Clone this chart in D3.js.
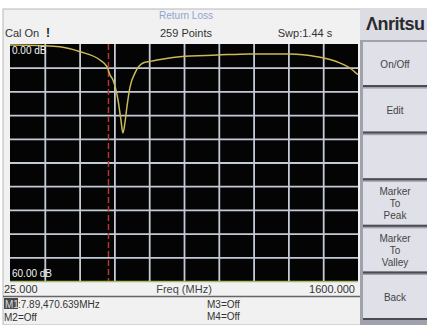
<!DOCTYPE html>
<html>
<head>
<meta charset="utf-8">
<script src="https://d3js.org/d3.v7.min.js"></script>
<style>
  body { margin: 0; background: #fff; }
  text { font-family: "Liberation Sans", Arial, sans-serif; }
</style>
</head>
<body>
<script>
// trace (return loss, dB, shown positive)
var freqMHz = [25, 34, 161, 251, 342, 432, 464, 478, 491, 514, 527, 536, 545, 554, 568, 591, 627, 659, 690, 794, 962, 1111, 1292, 1414, 1505, 1564, 1600];
var returnLossDb = [0.25, 0.25, 0.4, 0.7, 1.95, 4.05, 5.75, 7.89, 9.1, 14.2, 19.2, 22.5, 20, 16, 10.9, 7.3, 4.8, 4.4, 4.05, 3.2, 2.8, 2.5, 2.5, 3.2, 4.5, 6.1, 7.8];

var freqRange = [25, 1600];
var dbRange = [0, 60];
var freqLabels = ["25.000", "1600.000"];
var dbLabels = ["0.00 dB", "60.00 dB"];
var markerFreq = [470.639];
var markerText = ["M1", ":7.89,470.639MHz", "M2=Off", "M3=Off", "M4=Off"];
var buttons = [["On/Off"], ["Edit"], [""], ["Marker", "To", "Peak"], ["Marker", "To", "Valley"], ["Back"]];

var W = 427, H = 325;
var plot = {left: 10, top: 44, right: 358, bottom: 281};

var svg = d3.select("body").append("svg")
    .attr("width", W)
    .attr("height", H);

// screen body
svg.append("rect").attr("x", 3).attr("y", 9).attr("width", W - 3).attr("height", H - 9)
    .attr("fill", "#f1f1f1").attr("stroke", "#b8b8b8");

// header texts
svg.append("text").attr("x", 186).attr("y", 19).attr("text-anchor", "middle")
    .attr("font-size", 10).attr("fill", "#8ea6cf").text("Return Loss");
svg.append("text").attr("x", 5).attr("y", 37).attr("font-size", 11).attr("fill", "#333").text("Cal On");
svg.append("text").attr("x", 48).attr("y", 37).attr("font-size", 12).attr("font-weight", "bold")
    .attr("text-anchor", "middle").attr("fill", "#222").text("!");
svg.append("text").attr("x", 186).attr("y", 37).attr("text-anchor", "middle")
    .attr("font-size", 11).attr("fill", "#333").text("259 Points");
svg.append("text").attr("x", 305).attr("y", 37).attr("text-anchor", "middle")
    .attr("font-size", 11).attr("fill", "#333").text("Swp:1.44 s");

// scales
var x = d3.scaleLinear().domain(freqRange).range([plot.left, plot.right]);
var y = d3.scaleLinear().domain(dbRange).range([plot.top, plot.bottom]);

svg.append("rect")
    .attr("x", plot.left).attr("y", plot.top)
    .attr("width", plot.right - plot.left).attr("height", plot.bottom - plot.top)
    .attr("fill", "#040404");

// grid (10 x 10 divisions)
var xStep = (freqRange[1] - freqRange[0]) / 10;
var yStep = (dbRange[1] - dbRange[0]) / 10;
var xTicks = d3.range(1, 10).map(function(i) { return freqRange[0] + i * xStep; });
var yTicks = d3.range(1, 10).map(function(i) { return dbRange[0] + i * yStep; });

var gx = svg.append("g")
    .attr("transform", "translate(0," + plot.bottom + ")")
    .call(d3.axisBottom(x).tickValues(xTicks).tickSize(-(plot.bottom - plot.top)).tickFormat(""));
var gy = svg.append("g")
    .attr("transform", "translate(" + plot.left + ",0)")
    .call(d3.axisLeft(y).tickValues(yTicks).tickSize(-(plot.right - plot.left)).tickFormat(""));
[gx, gy].forEach(function(g) {
  g.select(".domain").remove();
  g.selectAll(".tick line").attr("stroke", "#c3cad6").attr("stroke-width", 1.8);
});

// bottom edge tint
svg.append("line").attr("x1", plot.left).attr("x2", plot.right)
    .attr("y1", plot.bottom + 0.5).attr("y2", plot.bottom + 0.5)
    .attr("stroke", "#a7bb6a").attr("stroke-width", 1.5);

// marker line
svg.selectAll(".marker").data(markerFreq).enter().append("line")
    .attr("class", "marker")
    .attr("x1", function(d) { return x(d); }).attr("x2", function(d) { return x(d); })
    .attr("y1", plot.top).attr("y2", plot.bottom)
    .attr("stroke", "#b23a26").attr("stroke-width", 1.5).attr("stroke-dasharray", "6,3");

// trace
var line = d3.line()
    .x(function(d, i) { return x(freqMHz[i]); })
    .y(function(d) { return y(d); })
    .curve(d3.curveMonotoneX);
svg.append("path").datum(returnLossDb)
    .attr("d", line)
    .attr("fill", "none").attr("stroke", "#c9b957").attr("stroke-width", 1.5);

// dB labels inside the plot
svg.append("text").attr("x", 12).attr("y", 54).attr("font-size", 10).attr("fill", "#f4f4f4").text(dbLabels[0]);
svg.append("text").attr("x", 12).attr("y", 277).attr("font-size", 10).attr("fill", "#f4f4f4").text(dbLabels[1]);

// frequency strip
svg.append("text").attr("x", 4).attr("y", 293).attr("font-size", 11).attr("fill", "#333").text(freqLabels[0]);
svg.append("text").attr("x", 184).attr("y", 293).attr("text-anchor", "middle")
    .attr("font-size", 11).attr("fill", "#444").text("Freq (MHz)");
svg.append("text").attr("x", 355).attr("y", 293).attr("text-anchor", "end")
    .attr("font-size", 11).attr("fill", "#333").text(freqLabels[1]);
svg.append("line").attr("x1", 3).attr("x2", 360).attr("y1", 296.5).attr("y2", 296.5)
    .attr("stroke", "#666").attr("stroke-width", 1.5);

// marker readouts
svg.append("rect").attr("x", 4).attr("y", 298).attr("width", 14).attr("height", 11).attr("fill", "#4a4a4a");
svg.append("text").attr("x", 5).attr("y", 307.5).attr("font-size", 10).attr("fill", "#ddd").text(markerText[0]);
svg.append("text").attr("x", 18).attr("y", 307.5).attr("font-size", 10).attr("fill", "#333").text(markerText[1]);
svg.append("text").attr("x", 4).attr("y", 321).attr("font-size", 10).attr("fill", "#333").text(markerText[2]);
svg.append("text").attr("x", 207).attr("y", 307.5).attr("font-size", 10).attr("fill", "#333").text(markerText[3]);
svg.append("text").attr("x", 207).attr("y", 320).attr("font-size", 10).attr("fill", "#333").text(markerText[4]);

// right soft-key panel
svg.append("rect").attr("x", 360).attr("y", 9).attr("width", W - 360).attr("height", H - 9).attr("fill", "#9fa2ab");
svg.append("rect").attr("x", 360).attr("y", 9).attr("width", W - 360).attr("height", 31).attr("fill", "#dcdde3");
svg.append("text").attr("x", 366).attr("y", 30).attr("font-size", 18).attr("font-weight", "bold")
    .attr("font-family", "DejaVu Sans, sans-serif").attr("letter-spacing", -0.5)
    .attr("fill", "#2a2a2e").text("Λnritsu");

var btnTop = 42, btnPitch = 46.6, btnH = 43;
var btn = svg.selectAll(".btn").data(buttons).enter().append("g")
    .attr("class", "btn")
    .attr("transform", function(d, i) { return "translate(363," + (btnTop + i * btnPitch) + ")"; });
btn.append("rect").attr("width", W - 363).attr("height", btnH).attr("fill", "#dfe0e8");
btn.append("line").attr("x1", 0).attr("x2", W - 363).attr("y1", btnH + 1).attr("y2", btnH + 1)
    .attr("stroke", "#4b4c52").attr("stroke-width", 2);
btn.each(function(d) {
  var g = d3.select(this);
  var n = d.length;
  d.forEach(function(t, j) {
    g.append("text").attr("x", 32).attr("y", btnH / 2 + 4 + (j - (n - 1) / 2) * 12)
        .attr("text-anchor", "middle").attr("font-size", 10).attr("fill", "#444").text(t);
  });
});
</script>
</body>
</html>
